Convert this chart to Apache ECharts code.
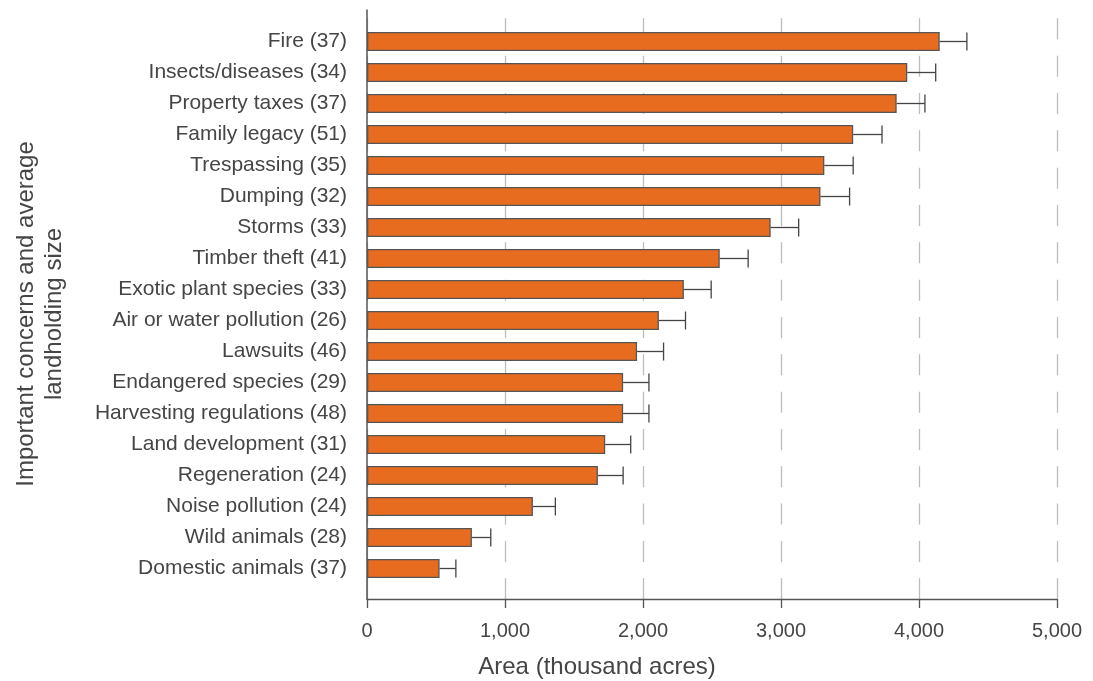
<!DOCTYPE html>
<html>
<head>
<meta charset="utf-8">
<script src="https://cdn.jsdelivr.net/npm/echarts@6/dist/echarts.min.js"></script>
<style>
  html, body { margin: 0; padding: 0; background: #fff; }
  #chart { width: 1093px; height: 681px; }
</style>
</head>
<body>
<div id="chart"></div>
<script>
// Concerns with the number of respondents, top to bottom
const concerns = [
  'Fire (37)', 'Insects/diseases (34)', 'Property taxes (37)', 'Family legacy (51)',
  'Trespassing (35)', 'Dumping (32)', 'Storms (33)', 'Timber theft (41)',
  'Exotic plant species (33)', 'Air or water pollution (26)', 'Lawsuits (46)',
  'Endangered species (29)', 'Harvesting regulations (48)', 'Land development (31)',
  'Regeneration (24)', 'Noise pollution (24)', 'Wild animals (28)', 'Domestic animals (37)'
];
// Area, thousand acres
const areas = [4150, 3915, 3838, 3523, 3314, 3286, 2925, 2556, 2296, 2115, 1957, 1856, 1856, 1726, 1673, 1202, 760, 526];
// Upper error margin, thousand acres
const errors = [197, 206, 205, 209, 209, 211, 203, 206, 198, 193, 192, 187, 187, 185, 183, 163, 137, 118];
// Axis ticks
const xTicks = [0, 1000, 2000, 3000, 4000, 5000];

const TEXT = '#454545';
const FONT = '"Liberation Sans", Arial, sans-serif';

const chart = echarts.init(document.getElementById('chart'), null, { renderer: 'canvas' });

chart.setOption({
  animation: false,
  backgroundColor: '#fff',
  textStyle: { fontFamily: FONT },
  grid: [
    // frame: axes and dashed gridlines
    { left: 367, right: 36, top: 10, bottom: 82, containLabel: false },
    // bars
    { left: 367, right: 36, top: 26, bottom: 97, containLabel: false }
  ],
  xAxis: [
    {
      gridIndex: 0, type: 'value', min: xTicks[0], max: xTicks[xTicks.length - 1], interval: 1000,
      axisLine: { show: true, lineStyle: { color: '#555', width: 1.3 } },
      axisTick: { show: true, length: 9, inside: false, lineStyle: { color: '#555', width: 1.3 } },
      axisLabel: {
        color: TEXT, fontSize: 20, fontFamily: FONT, margin: 22,
        formatter: v => v.toLocaleString('en-US')
      },
      splitLine: { show: true, lineStyle: { color: '#bdbdbd', width: 1.3, type: [21, 16.33], dashOffset: 29 } }
    },
    {
      gridIndex: 1, type: 'value', min: 0, max: 5000, interval: 1000,
      show: false
    }
  ],
  yAxis: [
    {
      gridIndex: 0, type: 'value', min: 0, max: 1,
      axisLine: { show: true, lineStyle: { color: '#555', width: 1.5 } },
      axisTick: { show: false }, axisLabel: { show: false }, splitLine: { show: false }
    },
    {
      gridIndex: 1, type: 'category', data: concerns, inverse: true,
      axisLine: { show: false }, axisTick: { show: false }, splitLine: { show: false },
      axisLabel: { color: TEXT, fontSize: 21, fontFamily: FONT, margin: 20 }
    }
  ],
  series: [
    {
      type: 'bar', xAxisIndex: 1, yAxisIndex: 1, data: areas, barWidth: 19,
      itemStyle: { color: '#E86C20', borderColor: '#555', borderWidth: 1.3 },
      z: 3
    },
    {
      type: 'custom', xAxisIndex: 1, yAxisIndex: 1,
      data: areas.map((v, i) => [v, i, v + errors[i]]),
      encode: { x: [0, 2], y: 1 },
      z: 4,
      renderItem: function (params, api) {
        const y = api.value(1);
        const a = api.coord([api.value(0), y]);
        const b = api.coord([api.value(2), y]);
        const half = 9;
        const style = { stroke: '#444', lineWidth: 1.3 };
        return {
          type: 'group',
          children: [
            { type: 'line', shape: { x1: a[0], y1: a[1], x2: b[0], y2: b[1] }, style },
            { type: 'line', shape: { x1: b[0], y1: b[1] - half, x2: b[0], y2: b[1] + half }, style }
          ]
        };
      }
    }
  ],
  graphic: [
    {
      type: 'text', x: 597, y: 667,
      style: {
        text: 'Area (thousand acres)', fill: TEXT, font: '24px ' + FONT,
        textAlign: 'center', textVerticalAlign: 'middle'
      }
    },
    {
      type: 'text', x: 40, y: 314, rotation: Math.PI / 2,
      style: {
        text: 'Important concerns and average\nlandholding size', fill: TEXT, font: '24px ' + FONT,
        textAlign: 'center', textVerticalAlign: 'middle', lineHeight: 28
      }
    }
  ]
});
</script>
</body>
</html>
